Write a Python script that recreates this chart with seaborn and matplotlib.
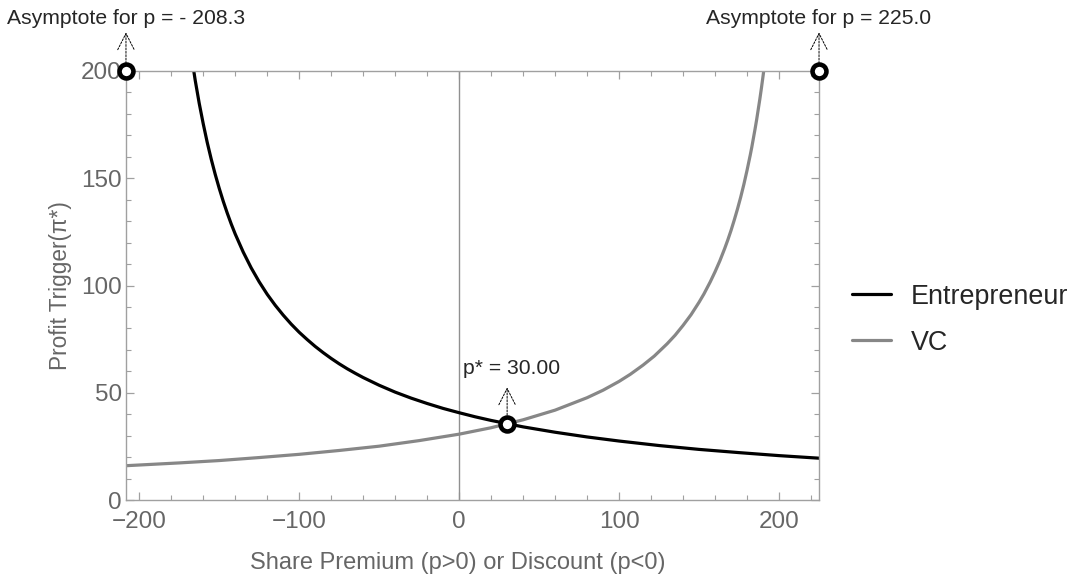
import pandas as pd
import numpy as np
import matplotlib.pyplot as plt
import seaborn as sns
from matplotlib.ticker import MultipleLocator

# values
ent_p = [-168, -165, -162.5, -160, -157.5, -155, -152.5, -150, -147.5, -145, -142.5, -140,
         -135, -130, -125, -120, -115, -110, -105, -100, -95, -90, -85, -80, -75, -70, -65,
         -60, -50, -40, -30, -20, -10, 0, 10, 20, 40, 60, 80, 100, 125, 150, 175, 200, 225]
ent_pi = [210.2, 195.6, 184.9, 175.4, 166.7, 158.9, 151.8, 145.3, 139.3, 133.8, 128.7, 124.0,
          115.6, 108.2, 101.7, 95.9, 90.8, 86.2, 82.0, 78.2, 74.8, 71.6, 68.7, 66.0, 63.5, 61.2, 59.1,
          57.1, 53.5, 50.3, 47.5, 45.0, 42.7, 40.7, 38.8, 37.1, 34.1, 31.6, 29.4, 27.5, 25.4, 23.6,
          22.1, 20.7, 19.5]

vc_p = [-208.3, -175, -150, -125, -100, -75, -50, -25, 0, 20, 40, 60, 80, 90, 100, 107, 115,
        122, 130, 135, 140, 145, 150, 153, 157, 160, 163, 166, 168, 170, 172, 174, 176, 178,
        180, 182, 183, 185, 186, 188, 189, 190, 191]
vc_pi = [16.0, 17.3, 18.4, 19.8, 21.3, 23.1, 25.1, 27.7, 30.7, 33.7, 37.4, 41.9, 47.7, 51.2, 55.3,
         58.6, 62.9, 67.1, 72.8, 76.8, 81.4, 86.4, 92.2, 96.0, 101.7, 106.4, 111.5, 117.2, 121.3,
         125.7, 130.5, 135.6, 141.1, 147.1, 153.7, 160.8, 164.6, 172.9, 177.3, 186.9, 192.1, 197.6,
         203.4]

# asymptotes and crossing point
mark_p = [-208.3, 225.0, 30.0]
mark_pi = [200, 200, 35.5]
mark_text = ['Asymptote for p = - 208.3', 'Asymptote for p = 225.0', 'p* = 30.00']

df = pd.concat([
    pd.DataFrame({'p': ent_p, 'pi': ent_pi, 'who': 'Entrepreneur'}),
    pd.DataFrame({'p': vc_p, 'pi': vc_pi, 'who': 'VC'}),
])

sns.set_style('ticks')
plt.rcParams['font.family'] = ['Liberation Sans', 'DejaVu Sans']

grey = '#666666'
frame = '#a0a0a0'

fig = plt.figure(figsize=(10.73, 5.78), dpi=100)
ax = fig.add_axes([0.1174, 0.1349, 0.6459, 0.7423])

ax.axvline(0, color='#909090', lw=1, zorder=1)

sns.lineplot(data=df, x='p', y='pi', hue='who', palette={'Entrepreneur': 'black', 'VC': '#878787'},
             linewidth=2.3, errorbar=None, sort=False, ax=ax)

ax.set_xlim(-208.3, 225)
ax.set_ylim(0, 200)

ax.plot(mark_p, mark_pi, 'o', ms=10, mfc='white', mec='black', mew=3.3, clip_on=False, zorder=5)

# dashed arrows pointing up to the labels
arrow = dict(arrowstyle='->, head_length=0.65, head_width=0.33', linestyle=(0, (2, 1.5)),
             lw=0.7, color='black', mutation_scale=18, shrinkA=0, shrinkB=0)
ax.annotate('', xy=(mark_p[0], 218), xytext=(mark_p[0], 203.5), annotation_clip=False, arrowprops=arrow)
ax.annotate('', xy=(mark_p[1], 218), xytext=(mark_p[1], 203.5), annotation_clip=False, arrowprops=arrow)
ax.annotate('', xy=(mark_p[2], 52.5), xytext=(mark_p[2], 39.5), annotation_clip=False, arrowprops=arrow)
ax.text(mark_p[0], 224.5, mark_text[0], ha='center', va='center', fontsize=15.2, clip_on=False)
ax.text(mark_p[1], 224.5, mark_text[1], ha='center', va='center', fontsize=15.2, clip_on=False)
ax.text(mark_p[2] + 3, 61.5, mark_text[2], ha='center', va='center', fontsize=15.2)

ax.xaxis.set_major_locator(MultipleLocator(100))
ax.xaxis.set_minor_locator(MultipleLocator(20))
ax.yaxis.set_major_locator(MultipleLocator(50))
ax.yaxis.set_minor_locator(MultipleLocator(10))
ax.tick_params(which='both', direction='in', top=True, right=True, color=frame, labelcolor=grey,
               labelsize=17.5)
ax.tick_params(which='major', length=6, width=0.9)
ax.tick_params(axis='x', which='major', pad=8)
ax.tick_params(axis='y', which='major', pad=3)
ax.tick_params(which='minor', length=3.5, width=0.8)
for s in ax.spines.values():
    s.set_color(frame)
    s.set_linewidth(1)

ax.set_xlabel('Share Premium (p>0) or Discount (p<0)', color=grey, fontsize=17)
ax.set_ylabel('Profit Trigger(π*)', color=grey, fontsize=16.3)
ax.xaxis.set_label_coords(0.479, -0.12)
ax.yaxis.set_label_coords(-0.078, 0.5)

handles, labels = ax.get_legend_handles_labels()
ax.get_legend().remove()
fig.legend(handles, labels, loc='center left', bbox_to_anchor=(0.771, 0.447), frameon=False,
           fontsize=19.4, handlelength=1.45, handletextpad=0.74, labelspacing=0.75)

plt.savefig('out.png', dpi=100)
